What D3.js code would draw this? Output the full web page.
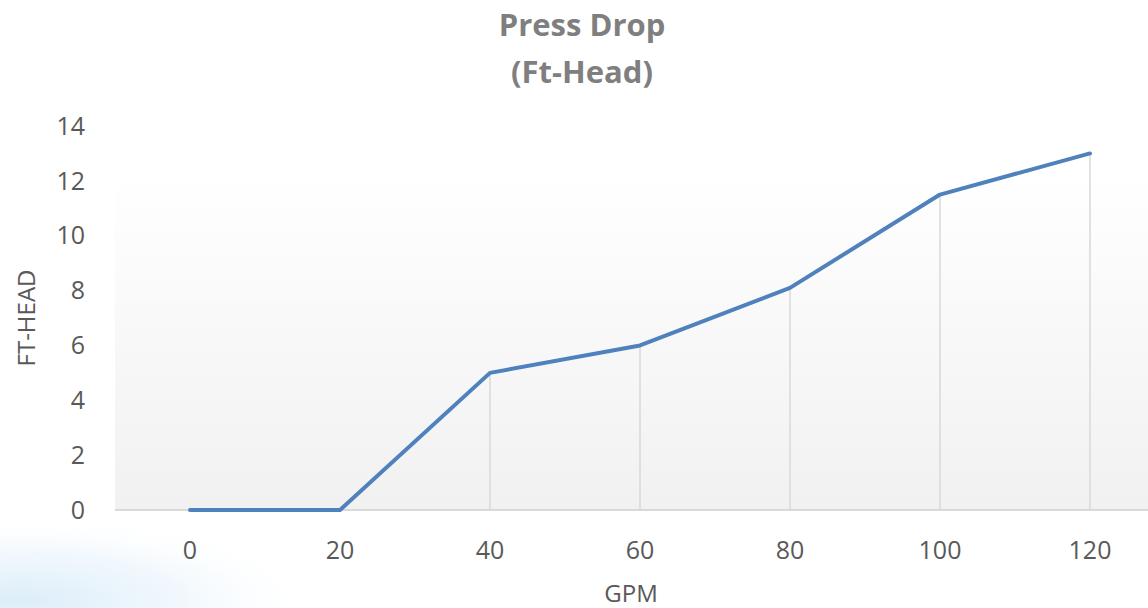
<!DOCTYPE html>
<html><head><meta charset="utf-8">
<script src="https://cdn.jsdelivr.net/npm/d3@7"></script>
<style>html,body{margin:0;padding:0;background:#fff;overflow:hidden}</style>
</head><body>
<svg id="c" width="1148" height="608"></svg>
<script>
const categories = ["0","20","40","60","80","100","120"];
const values = [0, 0, 5, 6, 8.1, 11.5, 13];
const yTicks = [0,2,4,6,8,10,12,14];
const titleLines = ["Press Drop","(Ft-Head)"];
const xTitle = "GPM";
const yTitle = "FT-HEAD";

(function(){
const svg = d3.select("#c");
const W = 1148, H = 608;
const font = "'Open Sans', 'Noto Sans', sans-serif";
const pLeft = 115, pRight = 1165, pTop = 126, pBottom = 510;

const defs = svg.append("defs");
const rg = defs.append("radialGradient").attr("id","sw").attr("cx","0.5").attr("cy","0.5").attr("r","0.5");
rg.append("stop").attr("offset","0").attr("stop-color","#dcedf9").attr("stop-opacity",1);
rg.append("stop").attr("offset","0.55").attr("stop-color","#ebf5fc").attr("stop-opacity",0.7);
rg.append("stop").attr("offset","1").attr("stop-color","#ffffff").attr("stop-opacity",0);
const lg = defs.append("linearGradient").attr("id","pa").attr("x1",0).attr("y1",0).attr("x2",0).attr("y2",1);
lg.append("stop").attr("offset","0").attr("stop-color","#ffffff");
lg.append("stop").attr("offset","0.12").attr("stop-color","#ffffff");
lg.append("stop").attr("offset","1").attr("stop-color","#f1f1f1");

svg.append("rect").attr("width",W).attr("height",H).attr("fill","#fff");
svg.append("ellipse").attr("cx",20).attr("cy",600).attr("rx",300).attr("ry",85).attr("fill","url(#sw)");

const x = d3.scaleBand().domain(categories).range([pLeft,pRight]);
const y = d3.scaleLinear().domain([0,14]).range([pBottom,pTop]);

svg.append("rect").attr("x",pLeft).attr("y",pTop).attr("width",W-pLeft).attr("height",pBottom-pTop).attr("fill","url(#pa)");

svg.append("line").attr("x1",pLeft).attr("x2",W).attr("y1",y(0)).attr("y2",y(0))
  .attr("stroke","#d9d9d9").attr("stroke-width",2);

const cx = d => x(d) + x.bandwidth()/2;
svg.append("g").selectAll("line").data(categories).join("line")
  .attr("x1",(d)=>cx(d)).attr("x2",(d)=>cx(d))
  .attr("y1",(d,i)=>y(values[i])).attr("y2",y(0))
  .attr("stroke","#d9d9d9").attr("stroke-width",1.5);

const line = d3.line().x((d,i)=>cx(categories[i])).y(d=>y(d));
svg.append("path").datum(values).attr("d",line).attr("fill","none")
  .attr("stroke","#4f81bd").attr("stroke-width",4).attr("stroke-linecap","round").attr("stroke-linejoin","round");

svg.append("g").selectAll("text").data(yTicks).join("text")
  .attr("x",85).attr("y",d=>y(d)).attr("dy","0.35em").attr("text-anchor","end")
  .attr("font-family",font).attr("font-size",25).attr("fill","#595959").text(d=>d);
svg.append("g").selectAll("text").data(categories).join("text")
  .attr("x",d=>cx(d)).attr("y",550).attr("dy","0.35em").attr("text-anchor","middle")
  .attr("font-family",font).attr("font-size",25).attr("fill","#595959").text(d=>d);

svg.append("text").attr("x",631).attr("y",594).attr("dy","0.35em").attr("text-anchor","middle")
  .attr("font-family",font).attr("font-size",24).attr("fill","#595959").text(xTitle);
svg.append("text").attr("transform","translate(27,318) rotate(-90)").attr("dy","0.35em").attr("text-anchor","middle")
  .attr("font-family",font).attr("font-size",24).attr("fill","#595959").text(yTitle);

svg.append("g").selectAll("text").data(titleLines).join("text")
  .attr("x",582).attr("y",(d,i)=>25+i*47).attr("dy","0.35em").attr("text-anchor","middle")
  .attr("font-family",font).attr("font-weight","bold").attr("font-size",31).attr("fill","#7f7f7f").text(d=>d);
})();
</script>
</body></html>
